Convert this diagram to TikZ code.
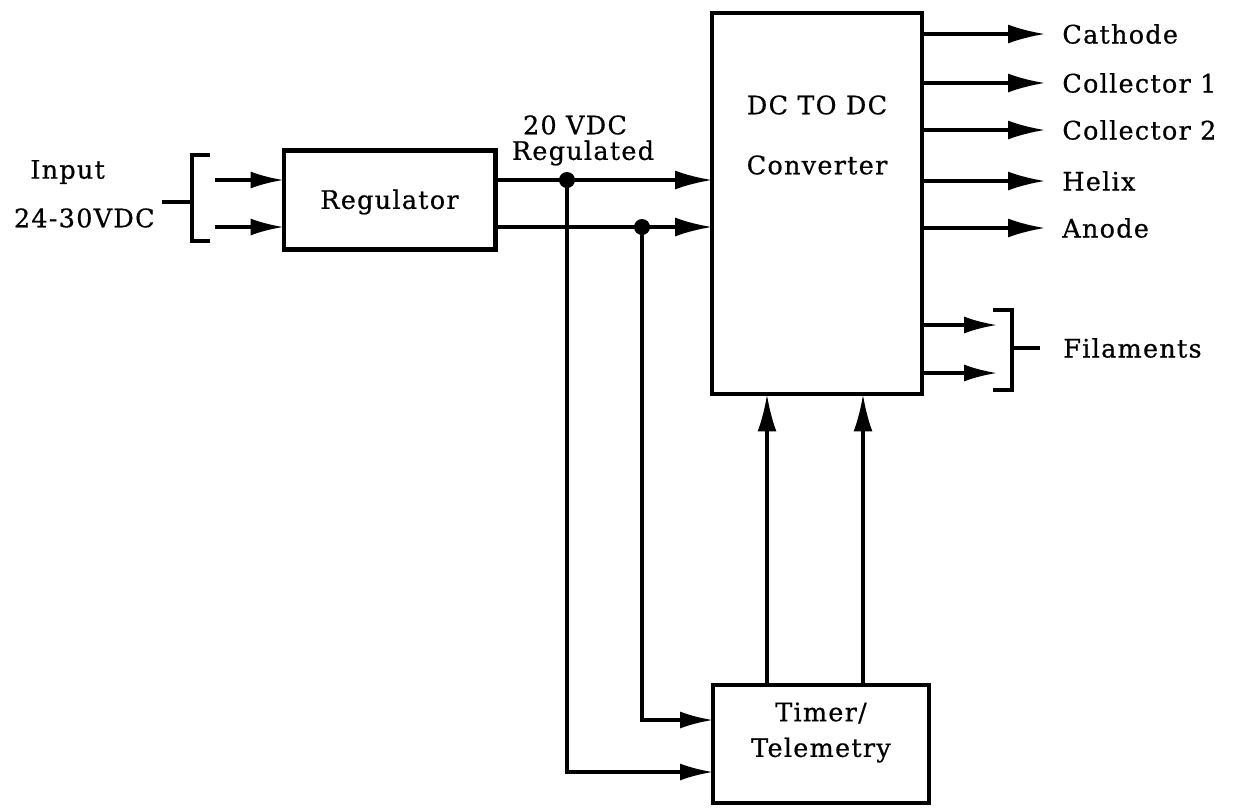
\documentclass[tikz,border=0pt]{standalone}
\usepackage{fontspec}
\setmainfont{DejaVu Serif}[LetterSpace=5,FakeBold=0.6]
\usetikzlibrary{arrows.meta,calc}
\tikzset{
  box/.style={draw,line width=2.3pt,minimum width=#1,inner sep=0pt,outer sep=0pt},
  wire/.style={line width=1.8pt},
  arr/.style={wire,-{Latex[length=0.74cm,width=0.38cm]}},
  sarr/.style={wire,-{Latex[length=0.66cm,width=0.34cm]}},
  lbl/.style={font=\fontsize{14.5}{17}\selectfont,inner sep=0pt},
  dot/.style={circle,fill,minimum size=0.32cm,inner sep=0pt}
}
\begin{document}
\begin{tikzpicture}[x=0.02cm,y=-0.02cm]
\useasboundingbox (0,0) rectangle (1234,809);
% boxes
\node[box=4.24cm,minimum height=1.98cm] (reg) at (389.5,200) {};
\node[lbl] (regt) at (389.5,202) {Regulator};
\node[box=4.2cm,minimum height=7.64cm] (conv) at (817,203.5) {};
\node[lbl] (convt1) at (817,105) {DC TO DC};
\node[lbl] (convt2) at (817,165) {Converter};
\node[box=4.32cm,minimum height=2.36cm] (timer) at (821,744) {};
\node[lbl] (timt1) at (821,713) {Timer/};
\node[lbl] (timt2) at (821,750) {Telemetry};
% y levels
\coordinate (ya) at (0,180);
\coordinate (yb) at (0,227);
\coordinate (tA) at (0,720);
\coordinate (tB) at (0,772);
% input
\node[lbl,anchor=west] (inp1) at (30,172) {Input};
\node[lbl,anchor=east] (inp2) at (155,218) {24-30VDC};
\coordinate (ia) at (215,180);
\coordinate (ib) at (215,227);
\draw[wire,line width=2pt] (210,155) -- (192,155) -- (192,241) -- (210,241);
\draw[wire] (162,202) -- (192,202);
\draw[sarr] (ia) -- (reg.west |- ia);
\draw[sarr] (ib) -- (reg.west |- ib);
% regulated
\node[lbl] (v20) at (575,125) {20 VDC};
\node[lbl] (vreg) at (583,153) {Regulated};
\node[dot] (d1) at (567,180) {};
\node[dot] (d2) at (642,227) {};
\draw[arr] (reg.east |- ya) -- (conv.west |- ya);
\draw[arr] (reg.east |- yb) -- (conv.west |- yb);
\draw[sarr] (d1.center) |- (timer.west |- tB);
\draw[sarr] (d2.center) |- (timer.west |- tA);
% timer to converter
\draw[arr] (timer.north -| 767,0) -- (conv.south -| 767,0);
\draw[arr] (timer.north -| 863,0) -- (conv.south -| 863,0);
% outputs
\foreach \y/\t/\n in {34/Cathode/o1,83/Collector 1/o2,130/Collector 2/o3,181/Helix/o4,228/Anode/o5}{
  \node[lbl,anchor=west] (\n) at (1062,\y) {\t};
  \draw[arr] (conv.east |- 0,\y) -- (\n.west -| 1045,0);
}
% filaments
\coordinate (fa) at (997,325);
\coordinate (fb) at (997,373);
\draw[sarr] (conv.east |- fa) -- (fa);
\draw[sarr] (conv.east |- fb) -- (fb);
\draw[wire,line width=2pt] (993,310) -- (1012,310) -- (1012,390) -- (993,390);
\node[lbl,anchor=west] (fil) at (1063,348) {Filaments};
\draw[wire] (1012,348) -- (1040,348);
\end{tikzpicture}
\end{document}
